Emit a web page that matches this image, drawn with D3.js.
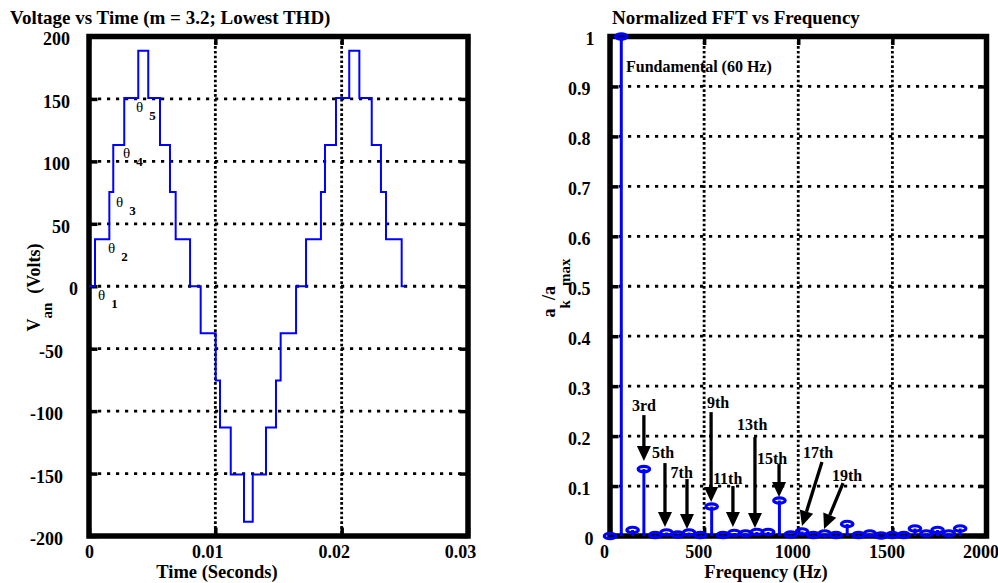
<!DOCTYPE html>
<html><head><meta charset="utf-8">
<script src="https://cdn.jsdelivr.net/npm/d3@7"></script>
<style>
body{margin:0;background:#fff}
svg{display:block}
text{font-family:"Liberation Serif","Times New Roman",serif;font-weight:bold;fill:#000}
</style>
</head><body>
<svg id="c" width="998" height="583"></svg>
<script>
// ---------------- DATA ----------------
// Left: staircase voltage (switching instants in seconds, level after each instant in volts)
const stepTimes = [0, 0.000475, 0.00161, 0.00192, 0.00279, 0.0039, 0.00469, 0.00562, 0.00641, 0.00686, 0.0080,
  0.00884, 0.01003, 0.01037, 0.01122, 0.01227, 0.01296, 0.01401, 0.0148, 0.01517, 0.01639,
  0.01718, 0.01836, 0.01868, 0.01955, 0.0206, 0.0214, 0.02238, 0.02311, 0.02351, 0.02475];
const stepVolts = [0, 37.7, 75.4, 113.1, 150.8, 188.5, 150.8, 113.1, 75.4, 37.7, 0,
  -37.7, -75.4, -113.1, -150.8, -188.5, -150.8, -113.1, -75.4, -37.7, 0,
  37.7, 75.4, 113.1, 150.8, 188.5, 150.8, 113.1, 75.4, 37.7, 0];
const timeEnd = 0.025;
const timeTicks = [0, 0.01, 0.02, 0.03];
const voltTicks = [-200, -150, -100, -50, 0, 50, 100, 150, 200];
// theta annotations: [time, volts, index]
const thetaLabels = [[0.00071, -11, "1"], [0.0015, 26.6, "2"], [0.00214, 63.5, "3"], [0.00269, 102.7, "4"], [0.00372, 139.5, "5"]];

// Right: normalized FFT
const freqs = [0, 60, 120, 180, 240, 300, 360, 420, 480, 540, 600, 660, 720, 780, 840, 900, 960, 1020, 1080, 1140,
  1200, 1260, 1320, 1380, 1440, 1500, 1560, 1620, 1680, 1740, 1800, 1860];
const amps = [0, 1, 0.012, 0.134, 0.002, 0.007, 0.003, 0.007, 0.002, 0.059, 0.002, 0.006, 0.005, 0.008, 0.008, 0.071,
  0.003, 0.009, 0.002, 0.005, 0.002, 0.024, 0.002, 0.005, 0.001, 0.002, 0.002, 0.015, 0.005, 0.012, 0.005, 0.015];
const freqTicks = [0, 500, 1000, 1500, 2000];
const ampTicks = [0, 0.1, 0.2, 0.3, 0.4, 0.5, 0.6, 0.7, 0.8, 0.9, 1];
// harmonic annotations: label, label-left freq, label value, arrow tail (f,v), arrow tip (f,v)
const harmLabels = ["3rd", "5th", "7th", "9th", "11th", "13th", "15th", "17th", "19th"];
const harmLabelPos = [[117, 0.25], [223, 0.157], [322, 0.117], [515, 0.256], [547, 0.105], [675, 0.212], [781, 0.145], [1025, 0.157], [1179, 0.11]];
const harmArrowFrom = [[180, 0.242], [292, 0.146], [409, 0.114], [537, 0.248], [653, 0.10], [770, 0.198], [898, 0.144], [1126, 0.148], [1238, 0.106]];
const harmArrowTo = [[180, 0.150], [292, 0.018], [409, 0.014], [537, 0.068], [653, 0.018], [770, 0.016], [898, 0.078], [1020, 0.02], [1137, 0.014]];

// ---------------- LAYOUT ----------------
const svg = d3.select("#c");
const L = {l: 89, r: 468, t: 36.5, b: 536};
const R = {l: 610, r: 986.5, t: 36.5, b: 536};
const blue = "#0000ff";

const xT = d3.scaleLinear().domain([0, 0.03]).range([L.l, L.r]);
const yV = d3.scaleLinear().domain([-200, 200]).range([L.b, L.t]);
const xF = d3.scaleLinear().domain([0, 2000]).range([R.l, R.r]);
const yA = d3.scaleLinear().domain([0, 1]).range([R.b, R.t]);

function grid(g, xs, xv, ys, yv, box) {
  g.selectAll(".hg").data(yv.filter(v => ys(v) > box.t + 1 && ys(v) < box.b - 1)).join("line")
    .attr("x1", box.l).attr("x2", box.r).attr("y1", d => ys(d)).attr("y2", d => ys(d))
    .attr("stroke", "#000").attr("stroke-width", 2.8).attr("stroke-dasharray", "3.2 5.8");
  g.selectAll(".vg").data(xv.filter(v => xs(v) > box.l + 1 && xs(v) < box.r - 1)).join("line")
    .attr("y1", box.t).attr("y2", box.b).attr("x1", d => xs(d)).attr("x2", d => xs(d))
    .attr("stroke", "#000").attr("stroke-width", 2.8).attr("stroke-dasharray", "2.6 2.2");
}

function styleAxis(g) {
  g.select(".domain").remove();
  g.selectAll(".tick line").attr("stroke", "#000").attr("stroke-width", 3.5);
  g.selectAll("text").attr("font-family", '"Liberation Serif","Times New Roman",serif')
    .attr("font-weight", "bold").attr("font-size", 18).attr("fill", "#000");
  g.attr("font-family", null).attr("font-size", null);
}

function axes(xs, xv, ys, yv, box, xfmt, yfmt, xdx, ydx, ypad) {
  const gb = svg.append("g").attr("transform", `translate(0,${box.b})`)
    .call(d3.axisBottom(xs).tickValues(xv).tickSize(-8.5).tickPadding(9).tickFormat(xfmt));
  styleAxis(gb);
  gb.selectAll("text").attr("dx", xdx);
  const gt = svg.append("g").attr("transform", `translate(0,${box.t})`)
    .call(d3.axisTop(xs).tickValues(xv).tickSize(-8.5).tickFormat(""));
  styleAxis(gt);
  const gl = svg.append("g").attr("transform", `translate(${box.l},0)`)
    .call(d3.axisLeft(ys).tickValues(yv).tickSize(-8.5).tickPadding(ypad).tickFormat(yfmt));
  styleAxis(gl);
  gl.selectAll("text").attr("dy", "0.47em").attr("dx", ydx);
  const gr = svg.append("g").attr("transform", `translate(${box.r},0)`)
    .call(d3.axisRight(ys).tickValues(yv).tickSize(-8.5).tickFormat(""));
  styleAxis(gr);
}

function frame(box) {
  svg.append("rect").attr("x", box.l).attr("y", box.t).attr("width", box.r - box.l).attr("height", box.b - box.t)
    .attr("fill", "none").attr("stroke", "#000").attr("stroke-width", 5.5);
}

// ---------------- LEFT PLOT ----------------
const gL = svg.append("g");
grid(gL, xT, timeTicks, yV, voltTicks, L);
frame(L);
axes(xT, timeTicks, yV, voltTicks, L, d => String(d), d => String(d),
  d => d === 0 ? 0 : -8, d => d === 0 ? 8 : (d < 0 ? -7 : 0), 19);

const wavePts = stepTimes.map((t, i) => [t, stepVolts[i]]).concat([[timeEnd, stepVolts[stepVolts.length - 1]]]);
svg.append("path").datum(wavePts)
  .attr("d", d3.line().x(d => xT(d[0])).y(d => yV(d[1])).curve(d3.curveStepAfter))
  .attr("fill", "none").attr("stroke", blue).attr("stroke-width", 2);

const th = svg.append("g").selectAll("text").data(thetaLabels).join("text")
  .attr("x", d => xT(d[0])).attr("y", d => yV(d[1]));
th.append("tspan").attr("font-weight", "normal").attr("font-size", 15).text("θ");
th.append("tspan").attr("font-size", 13).attr("dx", 6).attr("dy", 8).text(d => d[2]);

svg.append("text").attr("x", 10).attr("y", 23.5).attr("font-size", 19).text("Voltage vs Time (m = 3.2; Lowest THD)");
svg.append("text").attr("x", 217).attr("y", 578).attr("font-size", 18.5).attr("text-anchor", "middle").text("Time (Seconds)");
const yl = svg.append("text").attr("transform", "translate(40,287.5) rotate(-90)").attr("text-anchor", "middle").attr("font-size", 18);
yl.append("tspan").text("V");
yl.append("tspan").attr("font-size", 15).attr("dy", 12).text("an");
yl.append("tspan").attr("dy", -12).attr("dx", 9).text("(Volts)");

// ---------------- RIGHT PLOT ----------------
const gR = svg.append("g");
grid(gR, xF, freqTicks, yA, ampTicks, R);
frame(R);
axes(xF, freqTicks, yA, ampTicks, R, d => String(d), d => String(d),
  -6, d => d === 1 ? 4 : (d === 0 ? 3 : 0), 19.5);

const stems = svg.append("g");
stems.selectAll("line").data(freqs.map((f, i) => [f, amps[i]])).join("line")
  .attr("x1", d => xF(d[0])).attr("x2", d => xF(d[0])).attr("y1", yA(0)).attr("y2", d => yA(d[1]))
  .attr("stroke", blue).attr("stroke-width", 3);
stems.selectAll("ellipse").data(freqs.map((f, i) => [f, amps[i]])).join("ellipse")
  .attr("cx", d => xF(d[0])).attr("cy", d => yA(d[1])).attr("rx", 5.8).attr("ry", 2.7)
  .attr("fill", "none").attr("stroke", blue).attr("stroke-width", 3.1);

svg.append("text").attr("x", xF(85)).attr("y", yA(0.929)).attr("font-size", 16).text("Fundamental (60 Hz)");

const ann = svg.append("g");
harmLabels.forEach((lab, i) => {
  ann.append("text").attr("x", xF(harmLabelPos[i][0])).attr("y", yA(harmLabelPos[i][1])).attr("font-size", 16).text(lab);
  const x1 = xF(harmArrowFrom[i][0]), y1 = yA(harmArrowFrom[i][1]);
  const x2 = xF(harmArrowTo[i][0]), y2 = yA(harmArrowTo[i][1]);
  const dx = x2 - x1, dy = y2 - y1, len = Math.hypot(dx, dy), ux = dx / len, uy = dy / len;
  const hl = 15, hw = 7;
  const bx = x2 - ux * hl, by = y2 - uy * hl;
  ann.append("line").attr("x1", x1).attr("y1", y1).attr("x2", bx).attr("y2", by)
    .attr("stroke", "#000").attr("stroke-width", 3.3);
  ann.append("path").attr("d", `M${x2},${y2}L${bx - uy * hw},${by + ux * hw}L${bx + uy * hw},${by - ux * hw}Z`)
    .attr("fill", "#000");
});

svg.append("text").attr("x", 612).attr("y", 23.5).attr("font-size", 19).text("Normalized FFT vs Frequency");
svg.append("text").attr("x", 766).attr("y", 578).attr("font-size", 18.5).attr("text-anchor", "middle").text("Frequency (Hz)");
const yr = svg.append("text").attr("transform", "translate(555,288) rotate(-90)").attr("text-anchor", "middle").attr("font-size", 18);
yr.append("tspan").text("a");
yr.append("tspan").attr("font-size", 15).attr("dy", 15).text("k");
yr.append("tspan").attr("dy", -15).text("/a");
yr.append("tspan").attr("font-size", 15).attr("dy", 15).text("max");
</script>
</body></html>
